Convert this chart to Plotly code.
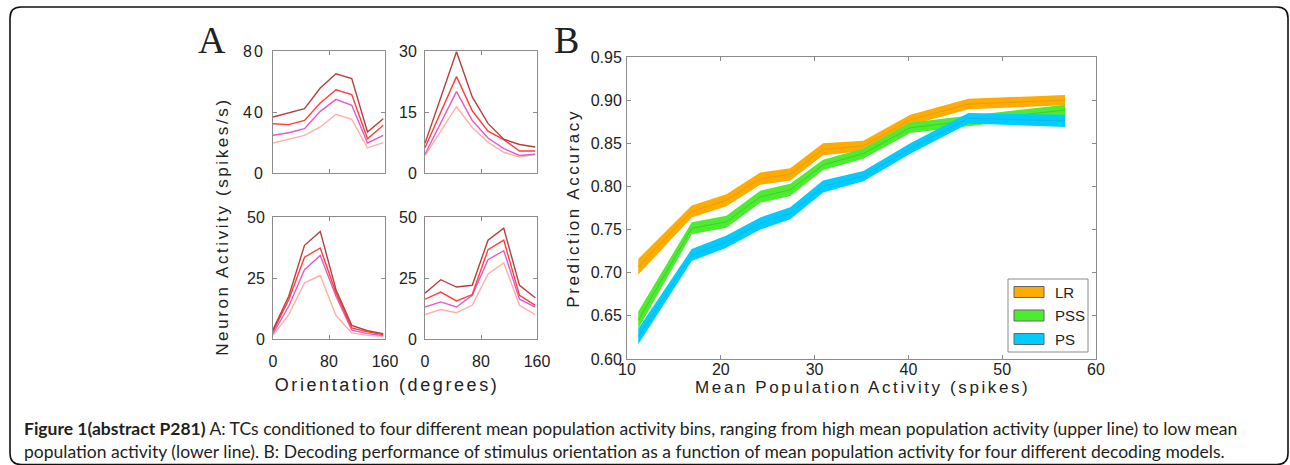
import plotly.graph_objects as go

W, H = 1290, 465


def px(x):
    return x / W


def py(y):
    return 1 - y / H


# ---------------- Panel A data: tuning curves ----------------
orientation = [0, 22.5, 45, 67.5, 90, 112.5, 135, 157.5]
bin_names = ["high", "mid-high", "mid-low", "low"]

n1_high = [36.7, 39.3, 42.2, 55.7, 65.1, 61.9, 26.9, 35.6]
n1_midhigh = [32.3, 31.7, 34.5, 45.9, 54.6, 51.4, 22.5, 31.3]
n1_midlow = [24.7, 26.4, 29.1, 40.4, 48.3, 44.4, 19.7, 24.7]
n1_low = [19.7, 22.0, 24.7, 30.2, 38.5, 35.2, 16.4, 19.9]

n2_high = [7.3, 18.5, 29.8, 18.7, 12.2, 8.3, 7.0, 6.4]
n2_midhigh = [6.2, 15.0, 23.7, 15.3, 10.3, 8.2, 5.4, 5.4]
n2_midlow = [4.6, 12.3, 20.0, 12.9, 8.6, 6.0, 4.3, 4.6]
n2_low = [4.3, 10.3, 16.3, 11.2, 7.6, 5.1, 3.9, 4.6]

n3_high = [3.8, 17.5, 38.4, 44.1, 20.2, 5.6, 3.4, 2.2]
n3_midhigh = [3.1, 16.1, 33.5, 37.3, 18.9, 4.5, 2.9, 1.8]
n3_midlow = [2.2, 13.4, 28.4, 34.2, 17.5, 3.6, 2.2, 1.4]
n3_low = [1.5, 10.0, 23.0, 26.0, 9.6, 2.5, 1.5, 1.1]

n4_high = [18.8, 24.3, 21.3, 22.0, 40.5, 45.4, 22.0, 16.9]
n4_midhigh = [16.3, 19.2, 15.6, 18.2, 36.6, 40.5, 17.9, 13.8]
n4_midlow = [13.1, 15.2, 13.1, 17.9, 32.5, 36.2, 16.3, 13.1]
n4_low = [10.0, 12.1, 10.8, 13.8, 26.7, 31.2, 13.8, 10.0]

a_xticks = [0, 80, 160]
n1_yticks = [0, 40, 80]
n2_yticks = [0, 15, 30]
n3_yticks = [0, 25, 50]
n4_yticks = [0, 25, 50]

# ---------------- Panel B data: decoding accuracy ----------------
activity = [11.2, 16.9, 20.6, 24.2, 27.4, 30.9, 35.2, 40.2, 46.4, 56.7]
lr_mean = [0.707, 0.771, 0.784, 0.809, 0.814, 0.843, 0.847, 0.877, 0.8955, 0.900]
lr_err = [0.009, 0.007, 0.007, 0.007, 0.007, 0.007, 0.006, 0.006, 0.006, 0.006]
pss_mean = [0.645, 0.7515, 0.759, 0.788, 0.796, 0.825, 0.838, 0.868, 0.876, 0.8886]
pss_err = [0.010, 0.007, 0.007, 0.007, 0.007, 0.006, 0.006, 0.006, 0.006, 0.006]
ps_mean = [0.626, 0.7205, 0.736, 0.757, 0.769, 0.800, 0.812, 0.844, 0.879, 0.876]
ps_err = [0.009, 0.007, 0.007, 0.007, 0.007, 0.007, 0.006, 0.006, 0.006, 0.007]
model_names = ["LR", "PSS", "PS"]

b_xticks = [10, 20, 30, 40, 50, 60]
b_yticks = [0.60, 0.65, 0.70, 0.75, 0.80, 0.85, 0.90, 0.95]

# ---------------- styles ----------------
TRACK = "Liberation Sans, Arial, sans-serif"
PLAIN = "Liberation Sans"
tc_colors = ["#b3403f", "#ff3d3d", "#e35ac9", "#ffafa6"]
band_fill = {"LR": "#ffab00", "PSS": "#4eec31", "PS": "#00ccff"}
band_line = {"LR": "#e89c12", "PSS": "#3fcf2a", "PS": "#10b6e6"}
axis_grey = "#8c8c8c"
text_col = "#222222"

fig = go.Figure()

neurons = [
    ([n1_high, n1_midhigh, n1_midlow, n1_low], "x", "y"),
    ([n2_high, n2_midhigh, n2_midlow, n2_low], "x2", "y2"),
    ([n3_high, n3_midhigh, n3_midlow, n3_low], "x3", "y3"),
    ([n4_high, n4_midhigh, n4_midlow, n4_low], "x4", "y4"),
]
for curves, xa, ya in neurons:
    for vals, col, name in zip(reversed(curves), reversed(tc_colors), reversed(bin_names)):
        fig.add_trace(go.Scatter(x=orientation, y=vals, mode="lines", name=name,
                                 line=dict(color=col, width=1.4),
                                 xaxis=xa, yaxis=ya, showlegend=False))

for name, mean, err in [("LR", lr_mean, lr_err), ("PSS", pss_mean, pss_err), ("PS", ps_mean, ps_err)]:
    upper = [m + e for m, e in zip(mean, err)]
    lower = [m - e for m, e in zip(mean, err)]
    fig.add_trace(go.Scatter(x=activity + activity[::-1], y=upper + lower[::-1],
                             fill="toself", fillcolor=band_fill[name], mode="lines",
                             line=dict(width=0, color=band_fill[name]),
                             xaxis="x5", yaxis="y5", showlegend=False, name=name))
    fig.add_trace(go.Scatter(x=activity, y=mean, mode="lines",
                             line=dict(width=1, color=band_line[name]),
                             xaxis="x5", yaxis="y5", showlegend=False, name=name))


def axis(domain, rng, tickvals, anchor, labels=True, fmt=None, standoff=4):
    d = dict(domain=domain, range=rng, tickvals=tickvals, anchor=anchor,
             showline=True, linecolor=axis_grey, linewidth=1, mirror="allticks",
             ticks="inside", ticklen=4, tickcolor=axis_grey, tickwidth=1,
             showgrid=False, zeroline=False, showticklabels=labels,
             ticklabelstandoff=standoff, automargin=False,
             tickfont=dict(family=TRACK, size=16, color=text_col))
    if fmt:
        d["tickformat"] = fmt
    return d


xl = [px(273), px(385)]
xr = [px(425), px(537)]
yt = [py(173), py(51)]
yb = [py(339), py(217)]

fig.update_layout(
    xaxis=axis(xl, [0, 160], a_xticks, "y", labels=False),
    yaxis=axis(yt, [0, 80], n1_yticks, "x", standoff=4),
    xaxis2=axis(xr, [0, 160], a_xticks, "y2", labels=False),
    yaxis2=axis(yt, [0, 30], n2_yticks, "x2", standoff=4),
    xaxis3=axis(xl, [0, 160], a_xticks, "y3", standoff=8),
    yaxis3=axis(yb, [0, 50], n3_yticks, "x3", standoff=4),
    xaxis4=axis(xr, [0, 160], a_xticks, "y4", standoff=8),
    yaxis4=axis(yb, [0, 50], n4_yticks, "x4", standoff=4),
    xaxis5=axis([px(627), px(1096)], [10, 60], b_xticks, "y5", standoff=-4),
    yaxis5=axis([py(359), py(57)], [0.60, 0.95], b_yticks, "x5", fmt=".2f", standoff=1),
)

shapes = []
# outer rounded frame
r = 11
x0, x1, y0, y1 = 10, 1288, 7, 464.5
path = (f"M {px(x0 + r)},{py(y0)} L {px(x1 - r)},{py(y0)} "
        f"Q {px(x1)},{py(y0)} {px(x1)},{py(y0 + r)} "
        f"L {px(x1)},{py(y1 - r)} Q {px(x1)},{py(y1)} {px(x1 - r)},{py(y1)} "
        f"L {px(x0 + r)},{py(y1)} Q {px(x0)},{py(y1)} {px(x0)},{py(y1 - r)} "
        f"L {px(x0)},{py(y0 + r)} Q {px(x0)},{py(y0)} {px(x0 + r)},{py(y0)} Z")
shapes.append(dict(type="path", path=path, xref="paper", yref="paper",
                   line=dict(color="#111111", width=1.6)))
# legend box
shapes.append(dict(type="rect", xref="paper", yref="paper",
                   x0=px(1008), x1=px(1088), y0=py(352), y1=py(279),
                   fillcolor="white", line=dict(color=axis_grey, width=1)))
annotations = []
for i, name in enumerate(model_names):
    yc = 292 + i * 23.5
    shapes.append(dict(type="rect", xref="paper", yref="paper",
                       x0=px(1014), x1=px(1044), y0=py(yc + 5.5), y1=py(yc - 5.5),
                       fillcolor=band_fill[name], line=dict(color="#666666", width=1)))
    annotations.append(dict(text=name, x=px(1053), y=py(yc), xref="paper", yref="paper",
                            xanchor="left", yanchor="middle", showarrow=False,
                            font=dict(family=PLAIN, size=15, color=text_col)))

annotations += [
    dict(text="A", x=px(212), y=py(40), font=dict(family="Liberation Serif", size=38, color=text_col)),
    dict(text="B", x=px(566), y=py(40), font=dict(family="Liberation Serif", size=38, color=text_col)),
    dict(text="Neuron Activity (spikes/s)", x=px(222), y=py(227), textangle=-90,
         font=dict(family=TRACK, size=17, color=text_col)),
    dict(text="Orientation (degrees)", x=px(387), y=py(385),
         font=dict(family=TRACK, size=18, color=text_col)),
    dict(text="Prediction Accuracy", x=px(574), y=py(208), textangle=-90,
         font=dict(family=TRACK, size=17, color=text_col)),
    dict(text="Mean Population Activity (spikes)", x=px(862), y=py(387),
         font=dict(family=TRACK, size=17, color=text_col)),
]
for a in annotations[-6:]:
    a.update(xref="paper", yref="paper", showarrow=False, xanchor="center", yanchor="middle")

cap1 = ("<b>Figure 1(abstract P281)</b> A: TCs conditioned to four different mean population "
        "activity bins, ranging from high mean population activity (upper line) to low mean")
cap2 = ("population activity (lower line). B: Decoding performance of stimulus orientation as a "
        "function of mean population activity for four different decoding models.")
for txt, yc in [(cap1, 428.5), (cap2, 451.5)]:
    annotations.append(dict(text=txt, x=px(22), y=py(yc), xref="paper", yref="paper",
                            xanchor="left", yanchor="middle", showarrow=False,
                            font=dict(family="Lato", size=17.5, color="#231f20")))

fig.update_layout(
    width=W, height=H, autosize=False,
    margin=dict(l=0, r=0, t=0, b=0, pad=0, autoexpand=False),
    paper_bgcolor="white", plot_bgcolor="white",
    showlegend=False, shapes=shapes, annotations=annotations,
)

post = """
var st = document.createElement('style');
st.textContent = 'html, body {margin:0 !important; padding:0 !important; overflow:hidden !important;} ' +
  '.xtick text, .ytick text {letter-spacing: 2px;} ' +
  'text.annotation-text[style*="Arial"] {letter-spacing: 2.6px;}';
document.head.appendChild(st);
"""
fig.write_html("out.html", post_script=post,
               config={"displayModeBar": False, "responsive": False, "staticPlot": True})
